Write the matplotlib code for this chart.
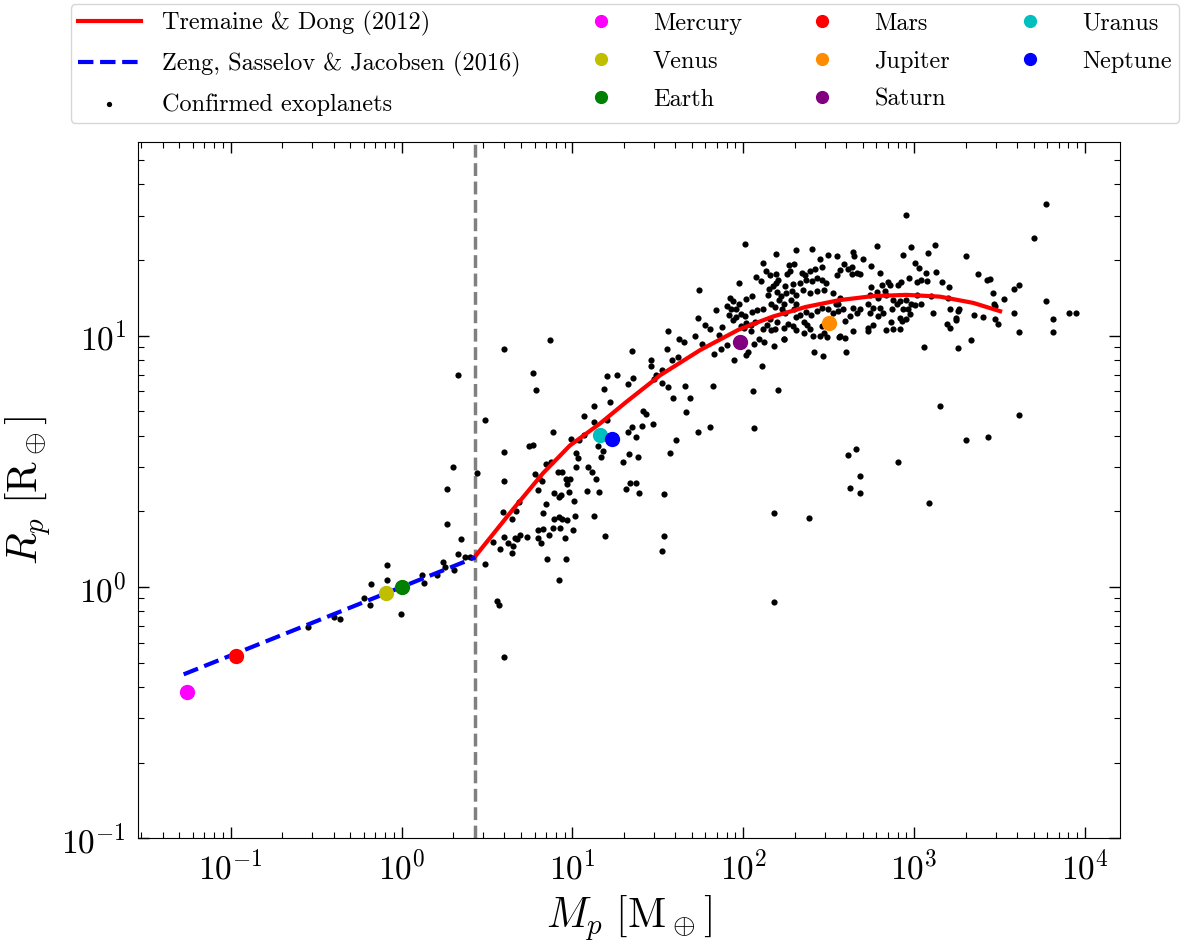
import matplotlib.pyplot as plt
import numpy as np

plt.rcParams["font.family"] = "serif"
plt.rcParams["font.serif"] = ["cmr10"]
plt.rcParams["mathtext.fontset"] = "cm"
plt.rcParams["axes.formatter.use_mathtext"] = True

# --- Confirmed exoplanets: log10(M/M_earth), log10(R/R_earth) ---
exo_log_mass = [
    # small planets near the rocky branch
    0.302, 0.268, 0.443, 0.268, 0.349, 0.329, 0.371, 0.400, 0.244, 0.254,
    0.307, 0.205, 0.118, 0.130, -0.087, -0.084, -0.177, -0.218, -0.185, -0.006,
    -0.396, -0.360, -0.546,
    # sub-Neptunes and Neptunes
    0.330, 0.601, 0.867, 0.767, 0.788, 0.486, 0.601, 0.601, 0.743, 0.767,
    0.884, 0.488, 0.532, 0.578, 0.601, 0.625, 0.650, 0.648, 0.664, 0.677,
    0.693, 0.733, 0.591, 0.648, 0.668, 0.685, 0.556, 0.568, 0.601, 0.798,
    0.827, 0.798, 0.814, 0.861, 0.829, 0.847, 0.782, 0.806, 0.820, 0.796,
    0.847, 0.875, 0.849, 0.886, 0.893, 0.920, 0.934, 0.892, 0.922, 0.938,
    0.970, 0.930, 0.958, 0.964, 0.922, 0.917, 0.936, 0.960, 0.987, 0.970,
    0.979, 1.009, 1.013, 1.005, 1.020, 1.034, 1.020, 0.993, 1.038, 1.068,
    1.068, 1.089, 1.116, 1.139, 1.083, 1.153, 1.129, 1.192, 1.125, 1.125,
    1.149, 1.178, 1.165, 1.200, 1.217, 1.186, 1.200, 1.261, 1.295, 1.311,
    1.336, 1.371, 1.391, 1.332, 1.381, 1.328, 1.350, 1.371, 1.405, 1.471,
    1.411, 1.428, 1.348, 1.328, 1.354, 1.460, 1.458, 1.488, 1.478, 1.523,
    1.525, 1.562, 1.551, 1.562, 1.590, 1.582, 1.617, 1.621, 1.653, 1.658,
    1.686, 1.665, 1.732, 1.720, 1.732, 1.607, 1.572, 1.537, 1.537, 1.525,
    # Saturns and Jupiters
    1.738, 1.974, 2.011, 1.841, 1.775, 1.806, 1.876, 1.857, 1.761, 1.826,
    1.869, 1.907, 1.943, 2.017, 2.029, 2.062, 2.108, 2.093, 2.124, 2.177,
    2.236, 2.056, 2.202, 1.824, 1.806, 2.063, 2.413, 2.464, 2.193, 2.311,
    2.403, 2.494, 2.116, 2.294, 2.265, 2.448, 2.461, 2.130, 2.159, 2.189,
    2.073, 2.104, 2.256, 2.274, 2.346, 2.364, 2.390, 2.421, 2.191, 2.204,
    2.171, 2.247, 2.292, 2.329, 2.368, 2.403, 2.429, 2.458, 2.485, 2.153,
    2.144, 2.200, 2.218, 2.250, 2.283, 2.311, 2.350, 2.390, 2.429, 2.473,
    2.526, 2.208, 2.239, 2.277, 2.311, 2.161, 2.183, 2.224, 2.247, 2.295,
    2.307, 2.331, 2.366, 2.397, 2.429, 2.460, 2.496, 2.541, 2.557, 2.155,
    2.140, 2.161, 2.196, 2.183, 2.238, 2.259, 2.292, 2.311, 2.354, 2.374,
    2.393, 2.409, 2.448, 2.473, 2.488, 2.561, 2.458, 2.238, 2.356, 2.015,
    2.050, 1.921, 1.941, 1.974, 1.905, 1.929, 1.960, 1.988, 1.956, 1.917,
    1.937, 2.011, 2.050, 2.081, 2.116, 2.015, 2.043, 2.068, 1.984, 2.005,
    2.045, 2.114,
    # massive giants and brown-dwarf regime
    2.953, 3.772, 3.702, 2.780, 2.984, 3.121, 3.084, 2.935, 3.306, 2.645,
    2.647, 2.551, 2.698, 2.587, 2.565, 2.551, 2.614, 2.634, 2.636, 2.663,
    2.681, 2.750, 2.799, 3.006, 3.028, 3.068, 3.128, 2.967, 3.043, 3.076,
    3.014, 3.162, 3.203, 3.376, 3.429, 3.444, 3.616, 3.583, 3.459, 3.526,
    3.470, 3.471, 3.587, 3.774, 3.905, 3.948, 3.812, 3.812, 3.613, 3.474,
    3.489, 3.402, 3.353, 3.254, 3.260, 3.244, 3.245, 3.207, 3.191, 3.209,
    3.333, 3.254, 3.056, 3.111, 3.099, 3.201, 3.014, 2.984, 3.004, 3.043,
    2.811, 2.847, 2.857, 2.906, 2.921, 2.750, 2.780, 2.829, 2.740, 2.789,
    2.838, 2.877, 2.916, 2.955, 2.731, 2.760, 2.799, 2.740, 2.789, 2.819,
    2.868, 2.897, 2.935, 2.965, 2.916, 2.931, 2.951, 2.975, 2.862, 2.838,
    2.874, 2.916, 2.731, 2.643, 2.760, 2.731, 2.663, 2.682, 2.643, 2.594,
    2.624, 2.565, 2.594, 2.604, 2.555, 2.565, 2.585, 2.526,
    # inflated-radius outliers below the relation
    3.154, 3.613, 3.306, 3.432, 2.612, 2.657, 2.908, 2.682, 2.624, 2.682,
    3.087, 2.179, 2.382, 2.179,
]
exo_log_radius = [
    0.478, 0.389, 0.453, 0.250, 0.190, 0.131, 0.121, 0.118, 0.100, 0.081,
    0.068, 0.047, 0.047, 0.015, 0.088, 0.029, 0.011, -0.044, -0.072, -0.106,
    -0.120, -0.126, -0.159,
    0.845, 0.948, 0.981, 0.850, 0.784, 0.663, 0.537, 0.422, 0.562, 0.565,
    0.616, 0.092, 0.178, 0.150, 0.198, 0.173, 0.163, 0.135, 0.196, 0.190,
    0.207, 0.200, 0.299, 0.272, 0.303, 0.339, -0.055, -0.072, -0.278, 0.227,
    0.232, 0.196, 0.176, 0.207, 0.294, 0.328, 0.449, 0.435, 0.420, 0.386,
    0.489, 0.498, 0.110, 0.235, 0.373, 0.356, 0.367, 0.272, 0.280, 0.272,
    0.266, 0.235, 0.195, 0.110, 0.029, 0.457, 0.459, 0.429, 0.431, 0.408,
    0.377, 0.340, 0.283, 0.227, 0.479, 0.511, 0.534, 0.590, 0.586, 0.604,
    0.682, 0.479, 0.459, 0.430, 0.382, 0.376, 0.284, 0.202, 0.721, 0.655,
    0.559, 0.542, 0.515, 0.665, 0.734, 0.788, 0.838, 0.842, 0.497, 0.390,
    0.412, 0.414, 0.375, 0.527, 0.517, 0.615, 0.635, 0.596, 0.639, 0.647,
    0.698, 0.688, 0.939, 0.809, 0.833, 0.902, 0.880, 0.843, 0.827, 0.863,
    0.812, 0.794, 0.948, 1.017, 0.753, 0.903, 0.914, 0.987, 0.973, 0.800,
    0.752, 0.694, 1.068, 1.000, 0.618, 0.584, 0.531, 0.371, 0.202, 0.143,
    1.182, 1.210, 1.365, 1.100, 1.044, 1.028, 1.033, 1.003, 0.967, 0.927,
    0.948, 0.961, 0.904, 0.924, 0.933, 0.967, 0.879, 0.985, 0.975, 0.957,
    0.987, 0.781, 0.785, 0.801, 0.635, 0.631, 0.935, 0.918, 1.323, 1.341,
    1.344, 1.319, 1.290, 1.286, 1.279, 1.306, 1.272, 1.255, 1.242, 1.243,
    1.234, 1.219, 1.246, 1.258, 1.250, 1.242, 1.256, 1.263, 1.210, 1.223,
    1.199, 1.196, 1.206, 1.210, 1.220, 1.216, 1.230, 1.220, 1.210, 1.186,
    1.162, 1.173, 1.157, 1.170, 1.177, 1.163, 1.183, 1.170, 1.178, 1.180,
    1.170, 1.141, 1.127, 1.143, 1.124, 1.127, 1.114, 1.104, 1.090, 1.104,
    1.075, 1.082, 1.093, 1.080, 1.097, 1.110, 1.106, 1.124, 1.097, 1.066,
    1.044, 1.024, 1.053, 1.028, 1.029, 1.045, 1.037, 1.024, 1.056, 1.044,
    1.027, 0.997, 1.000, 1.011, 0.995, 0.995, 1.037, 0.987, 1.011, 1.145,
    1.157, 1.150, 1.137, 1.124, 1.117, 1.104, 1.104, 1.084, 1.075, 1.080,
    1.061, 1.077, 1.093, 1.102, 1.104, 1.051, 1.043, 1.053, 1.037, 1.031,
    1.020, 1.027,
    1.479, 1.523, 1.388, 1.355, 1.353, 1.361, 1.327, 1.322, 1.317, 1.333,
    1.315, 1.316, 1.304, 1.286, 1.259, 1.240, 1.263, 1.272, 1.243, 1.250,
    1.243, 1.276, 1.247, 1.287, 1.270, 1.247, 1.252, 1.230, 1.223, 1.219,
    1.212, 1.212, 1.194, 1.243, 1.220, 1.224, 1.203, 1.186, 1.169, 1.146,
    1.126, 1.117, 1.090, 1.138, 1.090, 1.090, 1.066, 1.016, 1.013, 1.066,
    1.048, 1.073, 1.082, 1.097, 1.104, 1.071, 1.060, 1.105, 1.047, 1.029,
    0.983, 0.952, 0.953, 1.088, 1.157, 1.150, 1.163, 1.126, 1.120, 1.124,
    1.203, 1.214, 1.203, 1.203, 1.214, 1.193, 1.174, 1.177, 1.163, 1.150,
    1.161, 1.143, 1.137, 1.143, 1.124, 1.110, 1.110, 1.090, 1.077, 1.090,
    1.104, 1.124, 1.104, 1.104, 1.071, 1.057, 1.064, 1.084, 1.053, 1.021,
    1.028, 1.027, 1.017, 1.017, 1.041, 1.031, 1.090, 1.104, 1.110, 1.057,
    1.077, 0.997, 0.991, 0.935, 1.124, 1.150, 1.104, 1.090,
    0.718, 0.684, 0.586, 0.596, 0.525, 0.550, 0.498, 0.441, 0.392, 0.373,
    0.335, 0.294, 0.274, -0.061,
]

# --- Tremaine & Dong (2012) relation, sampled in log10 space ---
td_log_mass = [0.430, 0.651, 0.827, 0.984, 1.161, 1.317, 1.513, 1.749, 1.974,
               2.170, 2.366, 2.562, 2.758, 2.954, 3.150, 3.346, 3.503]
td_log_radius = [0.121, 0.308, 0.452, 0.562, 0.650, 0.737, 0.842, 0.943, 1.024,
                 1.075, 1.114, 1.141, 1.157, 1.162, 1.155, 1.130, 1.097]

# --- Zeng, Sasselov & Jacobsen (2016) rocky relation (end points) ---
zeng_mass = [0.053, 2.7]
zeng_radius = [0.449, 1.31]

# mass where the two relations are joined
transition_mass = 2.7

# --- Solar System planets ---
planet_names = ["Mercury", "Venus", "Earth", "Mars",
                "Jupiter", "Saturn", "Uranus", "Neptune"]
planet_mass = [0.0553, 0.815, 1.0, 0.107, 317.8, 95.2, 14.5, 17.1]
planet_radius = [0.383, 0.949, 1.0, 0.532, 11.21, 9.45, 4.01, 3.88]
planet_colors = ["magenta", "y", "g", "r", "darkorange", "purple", "c", "b"]

fig = plt.figure(figsize=(11.94, 9.44), dpi=100)
ax = fig.add_axes([137.5 / 1194, 1 - 838.3 / 944,
                   (1120 - 137.5) / 1194, (838.3 - 142) / 944])

h_td, = ax.plot(10 ** np.array(td_log_mass), 10 ** np.array(td_log_radius),
                color="r", lw=3, zorder=3, label="Tremaine & Dong (2012)")
h_zeng, = ax.plot(zeng_mass, zeng_radius, color="b", ls="--", lw=3, zorder=3,
                  label="Zeng, Sasselov & Jacobsen (2016)")
ax.axvline(transition_mass, color="gray", ls="--", lw=2.5, zorder=1)
h_exo = ax.scatter(10 ** np.array(exo_log_mass), 10 ** np.array(exo_log_radius),
                   s=20, color="k", lw=0, zorder=2, label="Confirmed exoplanets")

planet_handles = []
for name, m, r, c in zip(planet_names, planet_mass, planet_radius, planet_colors):
    h, = ax.plot(m, r, "o", color=c, ms=10, zorder=4, label=name)
    planet_handles.append(h)

ax.set_xscale("log")
ax.set_yscale("log")
ax.set_xlim(0.02845, 1.603e4)
ax.set_ylim(0.1, 58.9)
ax.tick_params(which="both", direction="in", top=True, right=True)
ax.tick_params(which="major", length=8, width=1, labelsize=24, pad=8)
ax.tick_params(which="minor", length=4, width=0.8)
ax.set_xlabel(r"$M_p\ [\mathrm{M}_\oplus]$", fontsize=30, labelpad=6)
ax.set_ylabel(r"$R_p\ [\mathrm{R}_\oplus]$", fontsize=30, labelpad=6)

fig.legend(handles=[h_td, h_zeng, h_exo] + planet_handles,
           loc="upper center", bbox_to_anchor=(625 / 1194, 0.9958),
           borderaxespad=0, ncol=4, fontsize=17.5, handlelength=2.6,
           handletextpad=0.85, columnspacing=2.0, labelspacing=0.65,
           borderpad=0.3, markerscale=0.85)

fig.savefig("out.png", dpi=100)
